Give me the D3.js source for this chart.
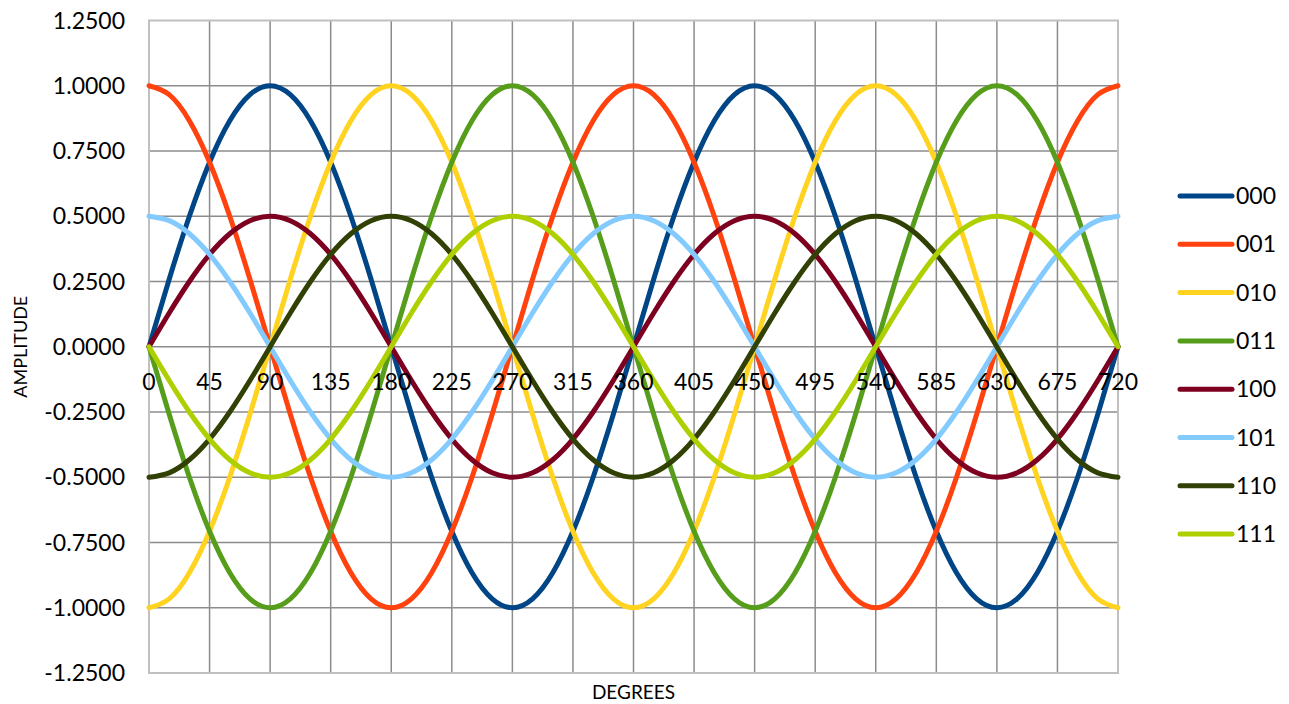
<!DOCTYPE html>
<html>
<head>
<meta charset="utf-8">
<script src="https://cdn.jsdelivr.net/npm/d3@7"></script>
<style>
  body { margin: 0; background: #fff; }
  svg text { font-family: Lato, "Open Sans", sans-serif; fill: #000; }
</style>
</head>
<body>
<div id="chart"></div>
<script>
// --------------------------------------
//  Data
// --------------------------------------

const degrees = [0, 15, 30, 45, 60, 75, 90, 105, 120, 135, 150, 165,
  180, 195, 210, 225, 240, 255, 270, 285, 300, 315, 330, 345,
  360, 375, 390, 405, 420, 435, 450, 465, 480, 495, 510, 525,
  540, 555, 570, 585, 600, 615, 630, 645, 660, 675, 690, 705, 720];

const s000 = [0, 0.2588, 0.5, 0.7071, 0.866, 0.9659, 1, 0.9659, 0.866, 0.7071, 0.5, 0.2588,
  0, -0.2588, -0.5, -0.7071, -0.866, -0.9659, -1, -0.9659, -0.866, -0.7071, -0.5, -0.2588,
  0, 0.2588, 0.5, 0.7071, 0.866, 0.9659, 1, 0.9659, 0.866, 0.7071, 0.5, 0.2588,
  0, -0.2588, -0.5, -0.7071, -0.866, -0.9659, -1, -0.9659, -0.866, -0.7071, -0.5, -0.2588, 0];
const s001 = [1, 0.9659, 0.866, 0.7071, 0.5, 0.2588, 0, -0.2588, -0.5, -0.7071, -0.866, -0.9659,
  -1, -0.9659, -0.866, -0.7071, -0.5, -0.2588, 0, 0.2588, 0.5, 0.7071, 0.866, 0.9659,
  1, 0.9659, 0.866, 0.7071, 0.5, 0.2588, 0, -0.2588, -0.5, -0.7071, -0.866, -0.9659,
  -1, -0.9659, -0.866, -0.7071, -0.5, -0.2588, 0, 0.2588, 0.5, 0.7071, 0.866, 0.9659, 1];
const s010 = [-1, -0.9659, -0.866, -0.7071, -0.5, -0.2588, 0, 0.2588, 0.5, 0.7071, 0.866, 0.9659,
  1, 0.9659, 0.866, 0.7071, 0.5, 0.2588, 0, -0.2588, -0.5, -0.7071, -0.866, -0.9659,
  -1, -0.9659, -0.866, -0.7071, -0.5, -0.2588, 0, 0.2588, 0.5, 0.7071, 0.866, 0.9659,
  1, 0.9659, 0.866, 0.7071, 0.5, 0.2588, 0, -0.2588, -0.5, -0.7071, -0.866, -0.9659, -1];
const s011 = [0, -0.2588, -0.5, -0.7071, -0.866, -0.9659, -1, -0.9659, -0.866, -0.7071, -0.5, -0.2588,
  0, 0.2588, 0.5, 0.7071, 0.866, 0.9659, 1, 0.9659, 0.866, 0.7071, 0.5, 0.2588,
  0, -0.2588, -0.5, -0.7071, -0.866, -0.9659, -1, -0.9659, -0.866, -0.7071, -0.5, -0.2588,
  0, 0.2588, 0.5, 0.7071, 0.866, 0.9659, 1, 0.9659, 0.866, 0.7071, 0.5, 0.2588, 0];
const s100 = [0, 0.1294, 0.25, 0.3536, 0.433, 0.483, 0.5, 0.483, 0.433, 0.3536, 0.25, 0.1294,
  0, -0.1294, -0.25, -0.3536, -0.433, -0.483, -0.5, -0.483, -0.433, -0.3536, -0.25, -0.1294,
  0, 0.1294, 0.25, 0.3536, 0.433, 0.483, 0.5, 0.483, 0.433, 0.3536, 0.25, 0.1294,
  0, -0.1294, -0.25, -0.3536, -0.433, -0.483, -0.5, -0.483, -0.433, -0.3536, -0.25, -0.1294, 0];
const s101 = [0.5, 0.483, 0.433, 0.3536, 0.25, 0.1294, 0, -0.1294, -0.25, -0.3536, -0.433, -0.483,
  -0.5, -0.483, -0.433, -0.3536, -0.25, -0.1294, 0, 0.1294, 0.25, 0.3536, 0.433, 0.483,
  0.5, 0.483, 0.433, 0.3536, 0.25, 0.1294, 0, -0.1294, -0.25, -0.3536, -0.433, -0.483,
  -0.5, -0.483, -0.433, -0.3536, -0.25, -0.1294, 0, 0.1294, 0.25, 0.3536, 0.433, 0.483, 0.5];
const s110 = [-0.5, -0.483, -0.433, -0.3536, -0.25, -0.1294, 0, 0.1294, 0.25, 0.3536, 0.433, 0.483,
  0.5, 0.483, 0.433, 0.3536, 0.25, 0.1294, 0, -0.1294, -0.25, -0.3536, -0.433, -0.483,
  -0.5, -0.483, -0.433, -0.3536, -0.25, -0.1294, 0, 0.1294, 0.25, 0.3536, 0.433, 0.483,
  0.5, 0.483, 0.433, 0.3536, 0.25, 0.1294, 0, -0.1294, -0.25, -0.3536, -0.433, -0.483, -0.5];
const s111 = [0, -0.1294, -0.25, -0.3536, -0.433, -0.483, -0.5, -0.483, -0.433, -0.3536, -0.25, -0.1294,
  0, 0.1294, 0.25, 0.3536, 0.433, 0.483, 0.5, 0.483, 0.433, 0.3536, 0.25, 0.1294,
  0, -0.1294, -0.25, -0.3536, -0.433, -0.483, -0.5, -0.483, -0.433, -0.3536, -0.25, -0.1294,
  0, 0.1294, 0.25, 0.3536, 0.433, 0.483, 0.5, 0.483, 0.433, 0.3536, 0.25, 0.1294, 0];

const seriesNames = ["000", "001", "010", "011", "100", "101", "110", "111"];
const seriesValues = [s000, s001, s010, s011, s100, s101, s110, s111];
const seriesColors = ["#004586", "#ff420e", "#ffd320", "#579d1c",
  "#7e0021", "#83caff", "#314004", "#aecf00"];

const xTicks = [0, 45, 90, 135, 180, 225, 270, 315, 360, 405, 450, 495, 540, 585, 630, 675, 720];
const yTicks = [-1.25, -1, -0.75, -0.5, -0.25, 0, 0.25, 0.5, 0.75, 1, 1.25];

// --------------------------------------
//  Margin and canvas
// --------------------------------------

const width = 1289;
const height = 704;
const margin = {top: 20.5, right: 171, bottom: 31, left: 149};
const innerWidth = width - margin.left - margin.right;
const innerHeight = height - margin.top - margin.bottom;

const svg = d3.select("#chart")
  .append("svg")
    .attr("width", width)
    .attr("height", height);

const inner = svg.append("g")
    .attr("transform", `translate(${margin.left}, ${margin.top})`);

// --------------------------------------
//  Scales
// --------------------------------------

const x = d3.scaleLinear()
    .domain([0, 720])
    .range([0, innerWidth]);

const y = d3.scaleLinear()
    .domain([-1.25, 1.25])
    .range([innerHeight, 0]);

// --------------------------------------
//  Grid
// --------------------------------------

inner.append("g")
    .selectAll("line")
    .data(xTicks.slice(1, -1))
    .join("line")
    .attr("x1", d => x(d)).attr("x2", d => x(d))
    .attr("y1", 0).attr("y2", innerHeight)
    .attr("stroke", "#8c8c8c")
    .attr("stroke-width", 1.5);

inner.append("g")
    .selectAll("line")
    .data(yTicks.slice(1, -1))
    .join("line")
    .attr("x1", 0).attr("x2", innerWidth)
    .attr("y1", d => y(d)).attr("y2", d => y(d))
    .attr("stroke", "#8c8c8c")
    .attr("stroke-width", 1.5);

inner.append("rect")
    .attr("width", innerWidth)
    .attr("height", innerHeight)
    .attr("fill", "none")
    .attr("stroke", "#c0c0c0")
    .attr("stroke-width", 2);

// --------------------------------------
//  Lines
// --------------------------------------

const line = d3.line()
    .x((d, i) => x(degrees[i]))
    .y(d => y(d))
    .curve(d3.curveNatural);

inner.append("g")
    .selectAll("path")
    .data(seriesValues)
    .join("path")
    .attr("d", d => line(d))
    .attr("fill", "none")
    .attr("stroke", (d, i) => seriesColors[i])
    .attr("stroke-width", 5)
    .attr("stroke-linecap", "round")
    .attr("stroke-linejoin", "round");

// --------------------------------------
//  Axes labels
// --------------------------------------

const fmt = d3.format(".4f");

inner.append("g")
    .selectAll("text")
    .data(yTicks)
    .join("text")
    .attr("x", -24)
    .attr("y", d => y(d))
    .attr("dy", "0.35em")
    .attr("text-anchor", "end")
    .style("font-size", "23px")
    .text(d => fmt(d).replace("\u2212", "-"));

inner.append("g")
    .selectAll("text")
    .data(xTicks)
    .join("text")
    .attr("x", d => x(d))
    .attr("y", y(0) + 43)
    .attr("text-anchor", "middle")
    .style("font-size", "23px")
    .text(d => d);

svg.append("text")
    .attr("transform", `translate(27, ${margin.top + y(0)}) rotate(-90)`)
    .attr("text-anchor", "middle")
    .style("font-size", "18px")
    .text("AMPLITUDE");

svg.append("text")
    .attr("x", margin.left + innerWidth / 2)
    .attr("y", 699)
    .attr("text-anchor", "middle")
    .style("font-size", "19px")
    .text("DEGREES");

// --------------------------------------
//  Legend
// --------------------------------------

const legend = svg.append("g")
    .selectAll("g")
    .data(seriesNames)
    .join("g")
    .attr("transform", (d, i) => `translate(1180, ${196 + i * 48.3})`);

legend.append("line")
    .attr("x1", 0).attr("x2", 52)
    .attr("stroke", (d, i) => seriesColors[i])
    .attr("stroke-width", 5)
    .attr("stroke-linecap", "round");

legend.append("text")
    .attr("x", 56)
    .attr("dy", "0.35em")
    .style("font-size", "23px")
    .text(d => d);
</script>
</body>
</html>
